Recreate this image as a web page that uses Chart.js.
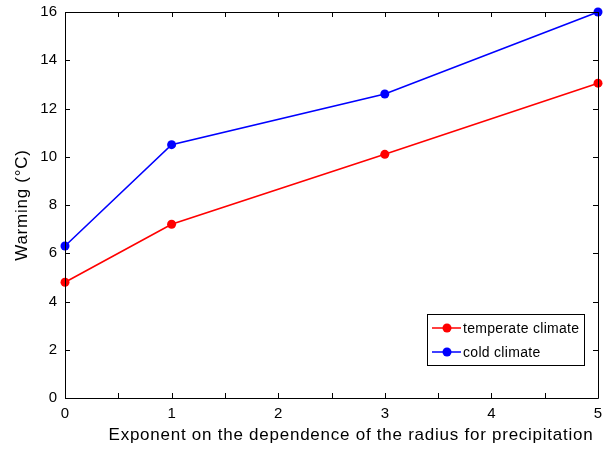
<!DOCTYPE html>
<html><head><meta charset="utf-8">
<script src="https://cdn.jsdelivr.net/npm/chart.js@4"></script>
<style>html,body{margin:0;padding:0;background:#fff}canvas{display:block}</style>
</head><body>
<canvas id="c" width="603" height="449"></canvas>
<script>
const exponents = [0, 1, 3, 5];
const temperate = [4.8, 7.2, 10.1, 13.05];
const cold = [6.3, 10.5, 12.6, 16.0];
const seriesNames = ['temperate climate', 'cold climate'];
const xTitle = 'Exponent on the dependence of the radius for precipitation';
const yTitle = 'Warming (°C)';
const FONT = '"Liberation Sans", Arial, Helvetica, sans-serif';

const frame = {
  id: 'frame',
  afterDraw(chart) {
    const ctx = chart.ctx, a = chart.chartArea;
    const xs = chart.scales.x, ys = chart.scales.y;
    ctx.save();
    ctx.strokeStyle = '#000'; ctx.lineWidth = 1;
    ctx.beginPath();
    ctx.rect(Math.round(a.left) + 0.5, Math.round(a.top) + 0.5, Math.round(a.right - a.left), Math.round(a.bottom - a.top));
    ctx.stroke();
    const L = 5;
    ctx.beginPath();
    xs.ticks.forEach(t => {
      const px = Math.round(xs.getPixelForValue(t.value)) + 0.5;
      ctx.moveTo(px, a.bottom); ctx.lineTo(px, a.bottom - L);
      ctx.moveTo(px, a.top); ctx.lineTo(px, a.top + L);
    });
    ys.ticks.forEach(t => {
      const py = Math.round(ys.getPixelForValue(t.value)) + 0.5;
      ctx.moveTo(a.left, py); ctx.lineTo(a.left + L, py);
      ctx.moveTo(a.right, py); ctx.lineTo(a.right - L, py);
    });
    ctx.stroke();
    // titles
    ctx.fillStyle = '#000';
    ctx.font = '17px ' + FONT;
    ctx.letterSpacing = '0.75px';
    ctx.textAlign = 'center'; ctx.textBaseline = 'middle';
    ctx.fillText(xTitle, 351, 435);
    ctx.save();
    ctx.translate(22, (a.top + a.bottom) / 2);
    ctx.rotate(-Math.PI / 2);
    ctx.fillText(yTitle, 0, 0);
    ctx.restore();
    // legend
    const bx = 427, by = 314, bw = 157, bh = 51;
    ctx.fillStyle = '#fff';
    ctx.fillRect(bx, by, bw, bh);
    ctx.strokeStyle = '#000'; ctx.lineWidth = 1;
    ctx.strokeRect(bx + 0.5, by + 0.5, bw, bh);
    ctx.font = '14px ' + FONT;
    ctx.letterSpacing = '0.3px';
    ctx.textAlign = 'left';
    chart.data.datasets.forEach((ds, i) => {
      const cy = 328 + i * 24;
      ctx.strokeStyle = ds.borderColor; ctx.lineWidth = 1.5;
      ctx.beginPath(); ctx.moveTo(432, cy); ctx.lineTo(461, cy); ctx.stroke();
      ctx.fillStyle = ds.backgroundColor;
      ctx.beginPath(); ctx.arc(447, cy, 4.5, 0, Math.PI * 2); ctx.fill();
      ctx.fillStyle = '#000';
      ctx.fillText(ds.label, 463, cy + 1);
    });
    ctx.restore();
  }
};

new Chart(document.getElementById('c'), {
  type: 'line',
  data: {
    datasets: [
      { label: seriesNames[0], data: exponents.map((x, i) => ({x, y: temperate[i]})),
        borderColor: '#ff0000', backgroundColor: '#ff0000', borderWidth: 1.6,
        pointRadius: 4.5, pointBorderWidth: 0, tension: 0 },
      { label: seriesNames[1], data: exponents.map((x, i) => ({x, y: cold[i]})),
        borderColor: '#0000ff', backgroundColor: '#0000ff', borderWidth: 1.6,
        pointRadius: 4.5, pointBorderWidth: 0, tension: 0 }
    ]
  },
  options: {
    responsive: false, animation: false,
    layout: { padding: { left: 0, right: 5, top: 12, bottom: 0 } },
    plugins: { legend: { display: false }, tooltip: { enabled: false } },
    clip: false,
    scales: {
      x: {
        type: 'linear', min: 0, max: 5,
        grid: { display: false, drawTicks: false }, border: { display: false },
        afterFit(s) { s.height = 51; s.paddingLeft = 0; s.paddingRight = 0; },
        afterBuildTicks(s) { const t = []; for (let v = 0; v <= 10; v++) t.push({ value: v / 2 }); s.ticks = t; },
        ticks: { autoSkip: false, maxRotation: 0, padding: 7, color: '#000',
          font: { family: FONT, size: 15 },
          callback: v => Number.isInteger(v) ? String(v) : '' }
      },
      y: {
        min: 0, max: 16,
        grid: { display: false, drawTicks: false }, border: { display: false },
        afterFit(s) { s.width = 65; s.paddingTop = 0; s.paddingBottom = 0; },
        ticks: { stepSize: 2, padding: 8, color: '#000', font: { family: FONT, size: 15 } }
      }
    }
  },
  plugins: [frame]
});
</script>
</body></html>
